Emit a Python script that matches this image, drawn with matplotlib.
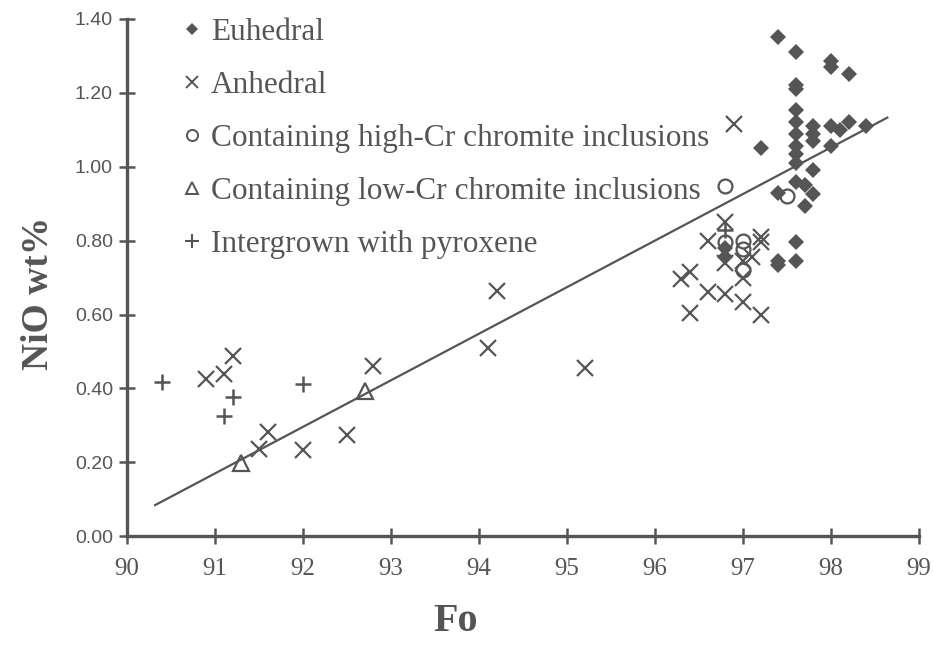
import matplotlib
matplotlib.use("Agg")
from matplotlib import pyplot as plt
from matplotlib.lines import Line2D

# Fo (x) and NiO wt% (y) for each olivine group
euhedral_fo = [97.4, 97.6, 98.0, 98.0, 98.2, 97.6, 97.6, 97.6, 97.6, 97.6, 97.6,
               97.6, 97.6, 97.8, 97.8, 97.8, 98.0, 98.1, 98.2, 98.4, 98.0, 97.2,
               97.6, 97.7, 97.8, 97.8, 97.4, 97.7, 97.6, 97.4, 97.4, 97.6, 96.8, 96.8]
euhedral_nio = [1.35, 1.31, 1.285, 1.27, 1.25, 1.22, 1.21, 1.155, 1.12, 1.09, 1.055,
                1.035, 1.01, 1.11, 1.09, 1.07, 1.11, 1.10, 1.12, 1.11, 1.055, 1.05,
                0.96, 0.95, 0.99, 0.925, 0.93, 0.895, 0.795, 0.745, 0.735, 0.745, 0.78, 0.755]

anhedral_fo = [96.9, 96.8, 96.6, 97.2, 97.2, 96.8, 97.0, 97.1, 97.0, 96.4, 96.3,
               96.6, 96.8, 97.0, 97.2, 96.4, 94.2, 94.1, 95.2, 92.8, 92.5, 92.0,
               91.6, 91.5, 90.9, 91.1, 91.2]
anhedral_nio = [1.115, 0.85, 0.80, 0.81, 0.795, 0.74, 0.745, 0.755, 0.70, 0.715, 0.695,
                0.66, 0.655, 0.635, 0.60, 0.605, 0.665, 0.51, 0.455, 0.46, 0.275, 0.232,
                0.283, 0.237, 0.426, 0.44, 0.488]

high_cr_fo = [96.8, 97.5, 97.0, 97.0, 96.8, 97.0]
high_cr_nio = [0.948, 0.92, 0.80, 0.777, 0.795, 0.72]

low_cr_fo = [91.3, 92.7]
low_cr_nio = [0.197, 0.394]

pyroxene_fo = [90.4, 91.2, 91.1, 92.0, 96.8]
pyroxene_nio = [0.418, 0.378, 0.324, 0.413, 0.83]

# regression line end points
fit_fo = [90.32, 98.64]
fit_nio = [0.084, 1.133]

x_ticks = [90, 91, 92, 93, 94, 95, 96, 97, 98, 99]
y_ticks = [0.0, 0.2, 0.4, 0.6, 0.8, 1.0, 1.2, 1.4]

labels = ["Euhedral", "Anhedral", "Containing high-Cr chromite inclusions",
          "Containing low-Cr chromite inclusions", "Intergrown with pyroxene"]

ink = "#555555"
serif = "Liberation Serif"

fig = plt.figure(figsize=(9.33, 6.46), dpi=100)
ax = fig.add_axes([0.136, 0.170, 0.849, 0.8006])

ax.plot(fit_fo, fit_nio, color=ink, lw=1.6, zorder=1)
ax.plot(anhedral_fo, anhedral_nio, "x", color=ink, ms=11, mew=1.6, ls="none")
ax.plot(high_cr_fo, high_cr_nio, "o", color=ink, mfc="none", ms=10, mew=1.6, ls="none")
ax.plot(low_cr_fo, low_cr_nio, "^", color=ink, mfc="none", ms=11, mew=1.6, ls="none")
ax.plot(pyroxene_fo, pyroxene_nio, "+", color=ink, ms=12, mew=1.8, ls="none")
ax.plot(euhedral_fo, euhedral_nio, "D", color=ink, ms=8.5, mew=0, ls="none", zorder=3)

ax.set_xlim(90, 99)
ax.set_ylim(0, 1.4)
ax.set_xticks(x_ticks)
ax.set_xticklabels([str(v) for v in x_ticks], fontfamily=serif, fontsize=18, color=ink)
ax.set_yticks(y_ticks)
ax.set_yticklabels(["%.2f" % v for v in y_ticks], fontfamily="Liberation Sans",
                   fontsize=14, color=ink)
ax.tick_params(axis="both", direction="inout", length=12, width=1.8, color=ink)
ax.tick_params(axis="y", pad=4)
ax.tick_params(axis="x", pad=10)

for side in ["top", "right"]:
    ax.spines[side].set_visible(False)
for side in ["left", "bottom"]:
    ax.spines[side].set_color(ink)
    ax.spines[side].set_linewidth(2.4)

# legend with smaller symbols than the plot
handles = [
    Line2D([], [], marker="D", color=ink, ms=6.5, mew=0, ls="none"),
    Line2D([], [], marker="x", color=ink, ms=9, mew=1.4, ls="none"),
    Line2D([], [], marker="o", color=ink, mfc="none", ms=8, mew=1.4, ls="none"),
    Line2D([], [], marker="^", color=ink, mfc="none", ms=8, mew=1.4, ls="none"),
    Line2D([], [], marker="+", color=ink, ms=10, mew=1.5, ls="none"),
]
leg = ax.legend(handles, labels, loc="upper left", bbox_to_anchor=(0.045, 1.032),
                frameon=False, handlelength=0.9, handletextpad=0.15,
                labelspacing=0.77, borderpad=0,
                prop={"family": serif, "size": 22.5})
for t in leg.get_texts():
    t.set_color(ink)

fig.text(0.041, 0.546, "NiO wt%", rotation=90, ha="center", va="center",
         fontfamily=serif, fontweight="bold", fontsize=27, color=ink)
fig.text(0.488, 0.01, "Fo", ha="center", va="bottom",
         fontfamily=serif, fontweight="bold", fontsize=29, color=ink)

fig.savefig("out.png", dpi=100)
